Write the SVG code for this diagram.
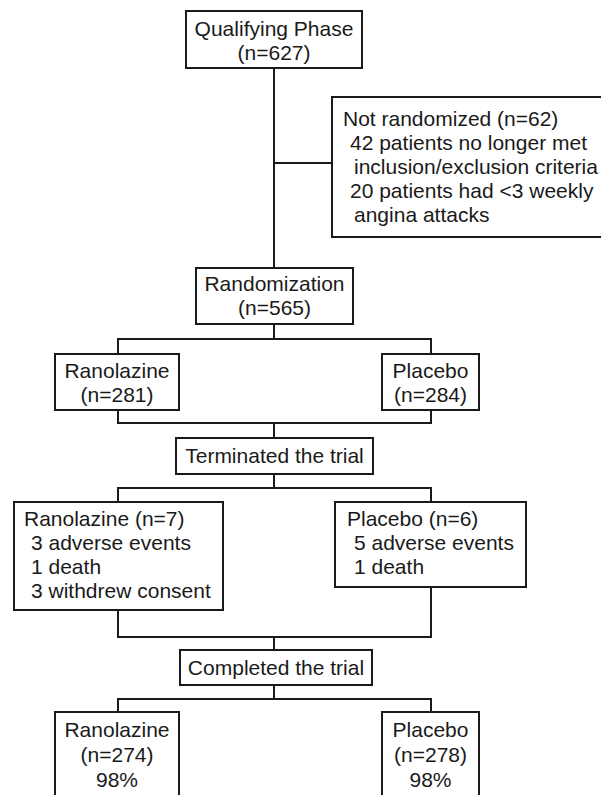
<svg xmlns="http://www.w3.org/2000/svg" width="601" height="795" viewBox="0 0 601 795">
<style>
.box{fill:#fff;stroke:#1a1a1a;stroke-width:2}
.ln{fill:none;stroke:#1a1a1a;stroke-width:2}
text{font-family:"Liberation Sans",Arial,sans-serif;font-size:21px;fill:#1a1a1a}
.c{text-anchor:middle}
</style>
<rect width="601" height="795" fill="#fff"/>
<g id="connectors">
<path class="ln" d="M274 68V268"/>
<path class="ln" d="M274 163H332"/>
<path class="ln" d="M274 324V339M118 354V339H431V354"/>
<path class="ln" d="M118 410V423H431V410M274 423V438"/>
<path class="ln" d="M274 474V488M118 502V488H431V502"/>
<path class="ln" d="M118 610V637H431V587M274 637V650"/>
<path class="ln" d="M274 685V699M118 712V699H431V712"/>
</g>
<g id="qualifying">
<rect class="box" x="186" y="11" width="176" height="57"/>
<text class="c" x="274" y="36">Qualifying Phase</text>
<text class="c" x="274" y="60">(n=627)</text>
</g>
<g id="not-randomized">
<rect class="box" x="332" y="97" width="280" height="140"/>
<text x="343" y="126">Not randomized (n=62)</text>
<text x="350" y="150">42 patients no longer met</text>
<text x="354" y="174">inclusion/exclusion criteria</text>
<text x="350" y="198">20 patients had &lt;3 weekly</text>
<text x="354" y="222">angina attacks</text>
</g>
<g id="randomization">
<rect class="box" x="196" y="268" width="157" height="56"/>
<text class="c" x="274.5" y="291">Randomization</text>
<text class="c" x="274.5" y="315">(n=565)</text>
</g>
<g id="ranolazine-1">
<rect class="box" x="55" y="354" width="124" height="56"/>
<text class="c" x="117" y="378">Ranolazine</text>
<text class="c" x="117" y="402">(n=281)</text>
</g>
<g id="placebo-1">
<rect class="box" x="382" y="354" width="97" height="56"/>
<text class="c" x="430.5" y="378">Placebo</text>
<text class="c" x="430.5" y="402">(n=284)</text>
</g>
<g id="terminated">
<rect class="box" x="176" y="438" width="197" height="36"/>
<text class="c" x="274.5" y="463">Terminated the trial</text>
</g>
<g id="ranolazine-2">
<rect class="box" x="14" y="502" width="209" height="108"/>
<text x="24" y="526">Ranolazine (n=7)</text>
<text x="31" y="550">3 adverse events</text>
<text x="31" y="574">1 death</text>
<text x="31" y="598">3 withdrew consent</text>
</g>
<g id="placebo-2">
<rect class="box" x="335" y="502" width="191" height="85"/>
<text x="347" y="526">Placebo (n=6)</text>
<text x="354" y="550">5 adverse events</text>
<text x="354" y="574">1 death</text>
</g>
<g id="completed">
<rect class="box" x="180" y="650" width="192" height="35"/>
<text class="c" x="276" y="675">Completed the trial</text>
</g>
<g id="ranolazine-3">
<rect class="box" x="55" y="712" width="124" height="100"/>
<text class="c" x="117" y="737">Ranolazine</text>
<text class="c" x="117" y="762">(n=274)</text>
<text class="c" x="117" y="787">98%</text>
</g>
<g id="placebo-3">
<rect class="box" x="382" y="712" width="97" height="100"/>
<text class="c" x="430.5" y="737">Placebo</text>
<text class="c" x="430.5" y="762">(n=278)</text>
<text class="c" x="430.5" y="787">98%</text>
</g>
</svg>
